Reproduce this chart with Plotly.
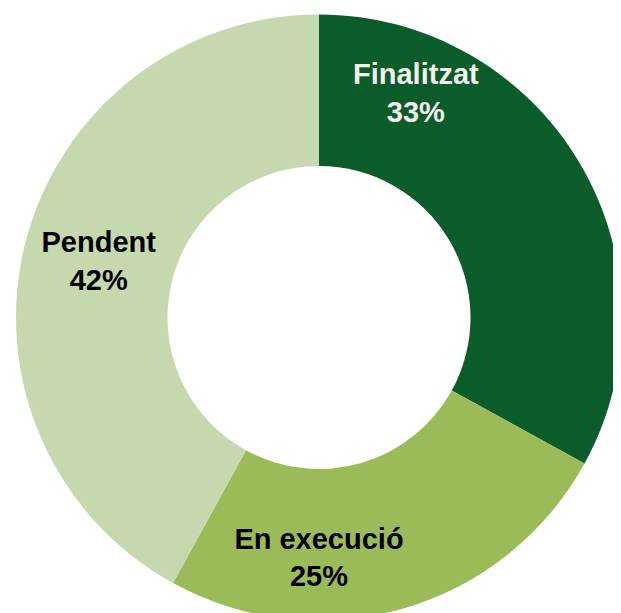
import plotly.graph_objects as go

labels = ['Finalitzat', 'En execució', 'Pendent']
values = [33, 25, 42]
colors = ['#0A5C2B', '#9BBB59', '#C5D8AE']
text_colors = ['#F2F2EA', '#000000', '#000000']

FONT = 'Liberation Sans, Arial, sans-serif'

# Finalitzat label sits higher in its slice, so it is drawn as an annotation
texts = ['', '<b>%{label}</b><br><b>%{percent:.0%}</b>', '<b>%{label}</b><br><b>%{percent:.0%}</b>']

fig = go.Figure(go.Pie(
    labels=labels,
    values=values,
    hole=0.5,
    sort=False,
    direction='clockwise',
    rotation=0,
    marker=dict(colors=colors, line=dict(width=0)),
    texttemplate=texts,
    textposition='inside',
    insidetextorientation='horizontal',
    insidetextfont=dict(color=text_colors, size=29, family=FONT),
    hoverinfo='label+percent',
))

total = sum(values)
fig.add_annotation(
    x=0.66, y=0.87, xref='paper', yref='paper', showarrow=False,
    xanchor='center', yanchor='middle',
    text='<b>%s</b><br><b>%d%%</b>' % (labels[0], round(100 * values[0] / total)),
    font=dict(color=text_colors[0], size=29, family=FONT),
)

fig.update_layout(width=621, height=613, showlegend=False,
                  margin=dict(l=8, r=7, t=6, b=0),
                  plot_bgcolor='white', paper_bgcolor='white',
                  uniformtext=dict(minsize=29, mode='show'))

fig.write_html("out.html")
